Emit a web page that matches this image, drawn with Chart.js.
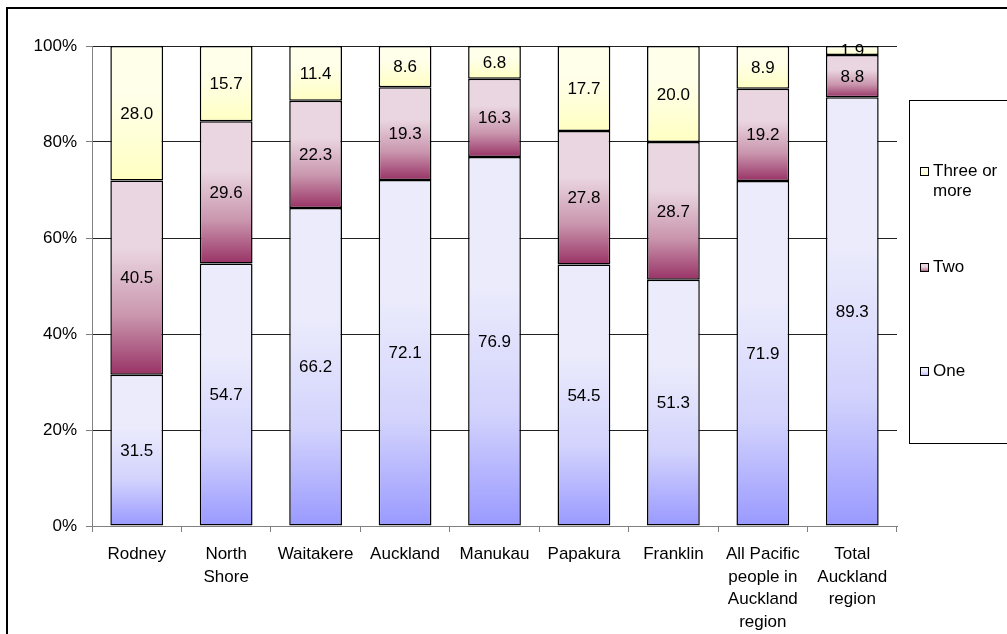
<!DOCTYPE html>
<html>
<head>
<meta charset="utf-8">
<script src="https://cdn.jsdelivr.net/npm/chart.js@4.4.0/dist/chart.umd.min.js"></script>
<style>
  html, body { margin:0; padding:0; background:#fff; overflow:hidden; }
  #wrap { position:relative; width:1007px; height:634px; }
  #wrap canvas { position:absolute; left:0; top:0; }
  #frame { position:absolute; left:6px; top:7px; width:1100px; height:700px; border:2px solid #000; box-sizing:border-box; pointer-events:none; }
</style>
</head>
<body>
<div id="wrap">
  <canvas id="chart" width="1007" height="634"></canvas>
  <div id="frame"></div>
</div>
<script>
// data (percent of households)
const categories = [
  ['Rodney'], ['North', 'Shore'], ['Waitakere'], ['Auckland'], ['Manukau'],
  ['Papakura'], ['Franklin'], ['All Pacific', 'people in', 'Auckland', 'region'],
  ['Total', 'Auckland', 'region']
];
const one       = [31.5, 54.7, 66.2, 72.1, 76.9, 54.5, 51.3, 71.9, 89.3];
const two       = [40.5, 29.6, 22.3, 19.3, 16.3, 27.8, 28.7, 19.2, 8.8];
const threePlus = [28.0, 15.7, 11.4, 8.6, 6.8, 17.7, 20.0, 8.9, 1.9];
const seriesNames = ['One', 'Two', ['Three or', 'more']];
const yTickStep = 20;

const raw = [one, two, threePlus];
// 100% stacked: scale each column to its total
const totals = categories.map((c, i) => one[i] + two[i] + threePlus[i]);
const pct = raw.map(arr => arr.map((v, i) => v / totals[i] * 100));

const FONT = '"Liberation Sans", Arial, sans-serif';
const shades = [
  { light: '#ebebfc', mid: '#d2d2fd', dark: '#9999ff' },
  { light: '#ead6e0', mid: '#c995ad', dark: '#993366' },
  { light: '#ffffea', mid: '#ffffd6', dark: '#ffffc2' }
];

function segGradient(ctx, top, bottom, s){
  const g = ctx.createLinearGradient(0, top, 0, bottom);
  g.addColorStop(0, s.light);
  g.addColorStop(0.35, s.light);
  g.addColorStop(0.7, s.mid);
  g.addColorStop(1, s.dark);
  return g;
}

function barFill(context){
  const chart = context.chart;
  const y = chart.scales.y;
  const di = context.datasetIndex, i = context.dataIndex;
  if(!y || i === undefined) return shades[di].mid;
  let base = 0;
  for(let k = 0; k < di; k++) base += pct[k][i];
  const top = y.getPixelForValue(base + pct[di][i]);
  const bottom = y.getPixelForValue(base);
  if(!isFinite(top) || !isFinite(bottom) || top === bottom) return shades[di].mid;
  return segGradient(chart.ctx, top, bottom, shades[di]);
}

const valueLabels = {
  id: 'valueLabels',
  afterDatasetsDraw(chart){
    const ctx = chart.ctx;
    ctx.save();
    ctx.font = '17px ' + FONT;
    ctx.fillStyle = '#000';
    ctx.textAlign = 'center';
    ctx.textBaseline = 'middle';
    chart.data.datasets.forEach((ds, di) => {
      chart.getDatasetMeta(di).data.forEach((el, i) => {
        ctx.fillText(raw[di][i].toFixed(1), el.x, (el.y + el.base) / 2 + 1);
      });
    });
    ctx.restore();
  }
};

const legendBox = {
  id: 'legendBox',
  afterDraw(chart){
    const ctx = chart.ctx;
    ctx.save();
    ctx.strokeStyle = '#000';
    ctx.lineWidth = 1;
    ctx.strokeRect(909.5, 100.5, 140, 343);
    ctx.font = '17px ' + FONT;
    ctx.textBaseline = 'middle';
    const rows = [172, 268, 372];
    [2, 1, 0].forEach((di, r) => {
      const yc = rows[r];
      ctx.fillStyle = segGradient(ctx, yc - 4, yc + 4, shades[di]);
      ctx.fillRect(920.5, yc - 4.5, 8, 8);
      ctx.strokeStyle = '#000';
      ctx.strokeRect(920.5, yc - 4.5, 8, 8);
      ctx.fillStyle = '#000';
      const name = seriesNames[di];
      const lines = Array.isArray(name) ? name : [name];
      lines.forEach((t, li) => ctx.fillText(t, 933, yc - 1 + li * 20));
    });
    ctx.restore();
  }
};

new Chart(document.getElementById('chart'), {
  type: 'bar',
  data: {
    labels: categories,
    datasets: pct.map((arr, di) => ({
      label: Array.isArray(seriesNames[di]) ? seriesNames[di].join(' ') : seriesNames[di],
      data: arr,
      backgroundColor: barFill,
      borderColor: '#000',
      borderWidth: 1.5,
      borderSkipped: false,
      categoryPercentage: 1,
      barPercentage: 0.59
    }))
  },
  options: {
    responsive: false,
    animation: false,
    layout: { padding: { left: 0, right: 110, top: 46, bottom: 0 } },
    plugins: { legend: { display: false }, tooltip: { enabled: false } },
    scales: {
      x: {
        stacked: true,
        grid: { display: true, drawOnChartArea: false, offset: true, tickLength: 6, tickColor: '#808080' },
        border: { color: '#808080', width: 1 },
        ticks: {
          color: '#000', padding: 11, maxRotation: 0, autoSkip: false,
          font: { family: FONT, size: 17, lineHeight: 1.33 }
        },
        afterFit(scale){ scale.height = 108; }
      },
      y: {
        stacked: true,
        min: 0, max: 100,
        grid: { color: '#222', tickLength: 6, tickColor: '#808080' },
        border: { color: '#808080', width: 1 },
        ticks: {
          stepSize: yTickStep, color: '#000', padding: 9,
          font: { family: FONT, size: 17 },
          callback: v => v + '%'
        },
        afterFit(scale){ scale.width = 92; }
      }
    }
  },
  plugins: [valueLabels, legendBox]
});
</script>
</body>
</html>
